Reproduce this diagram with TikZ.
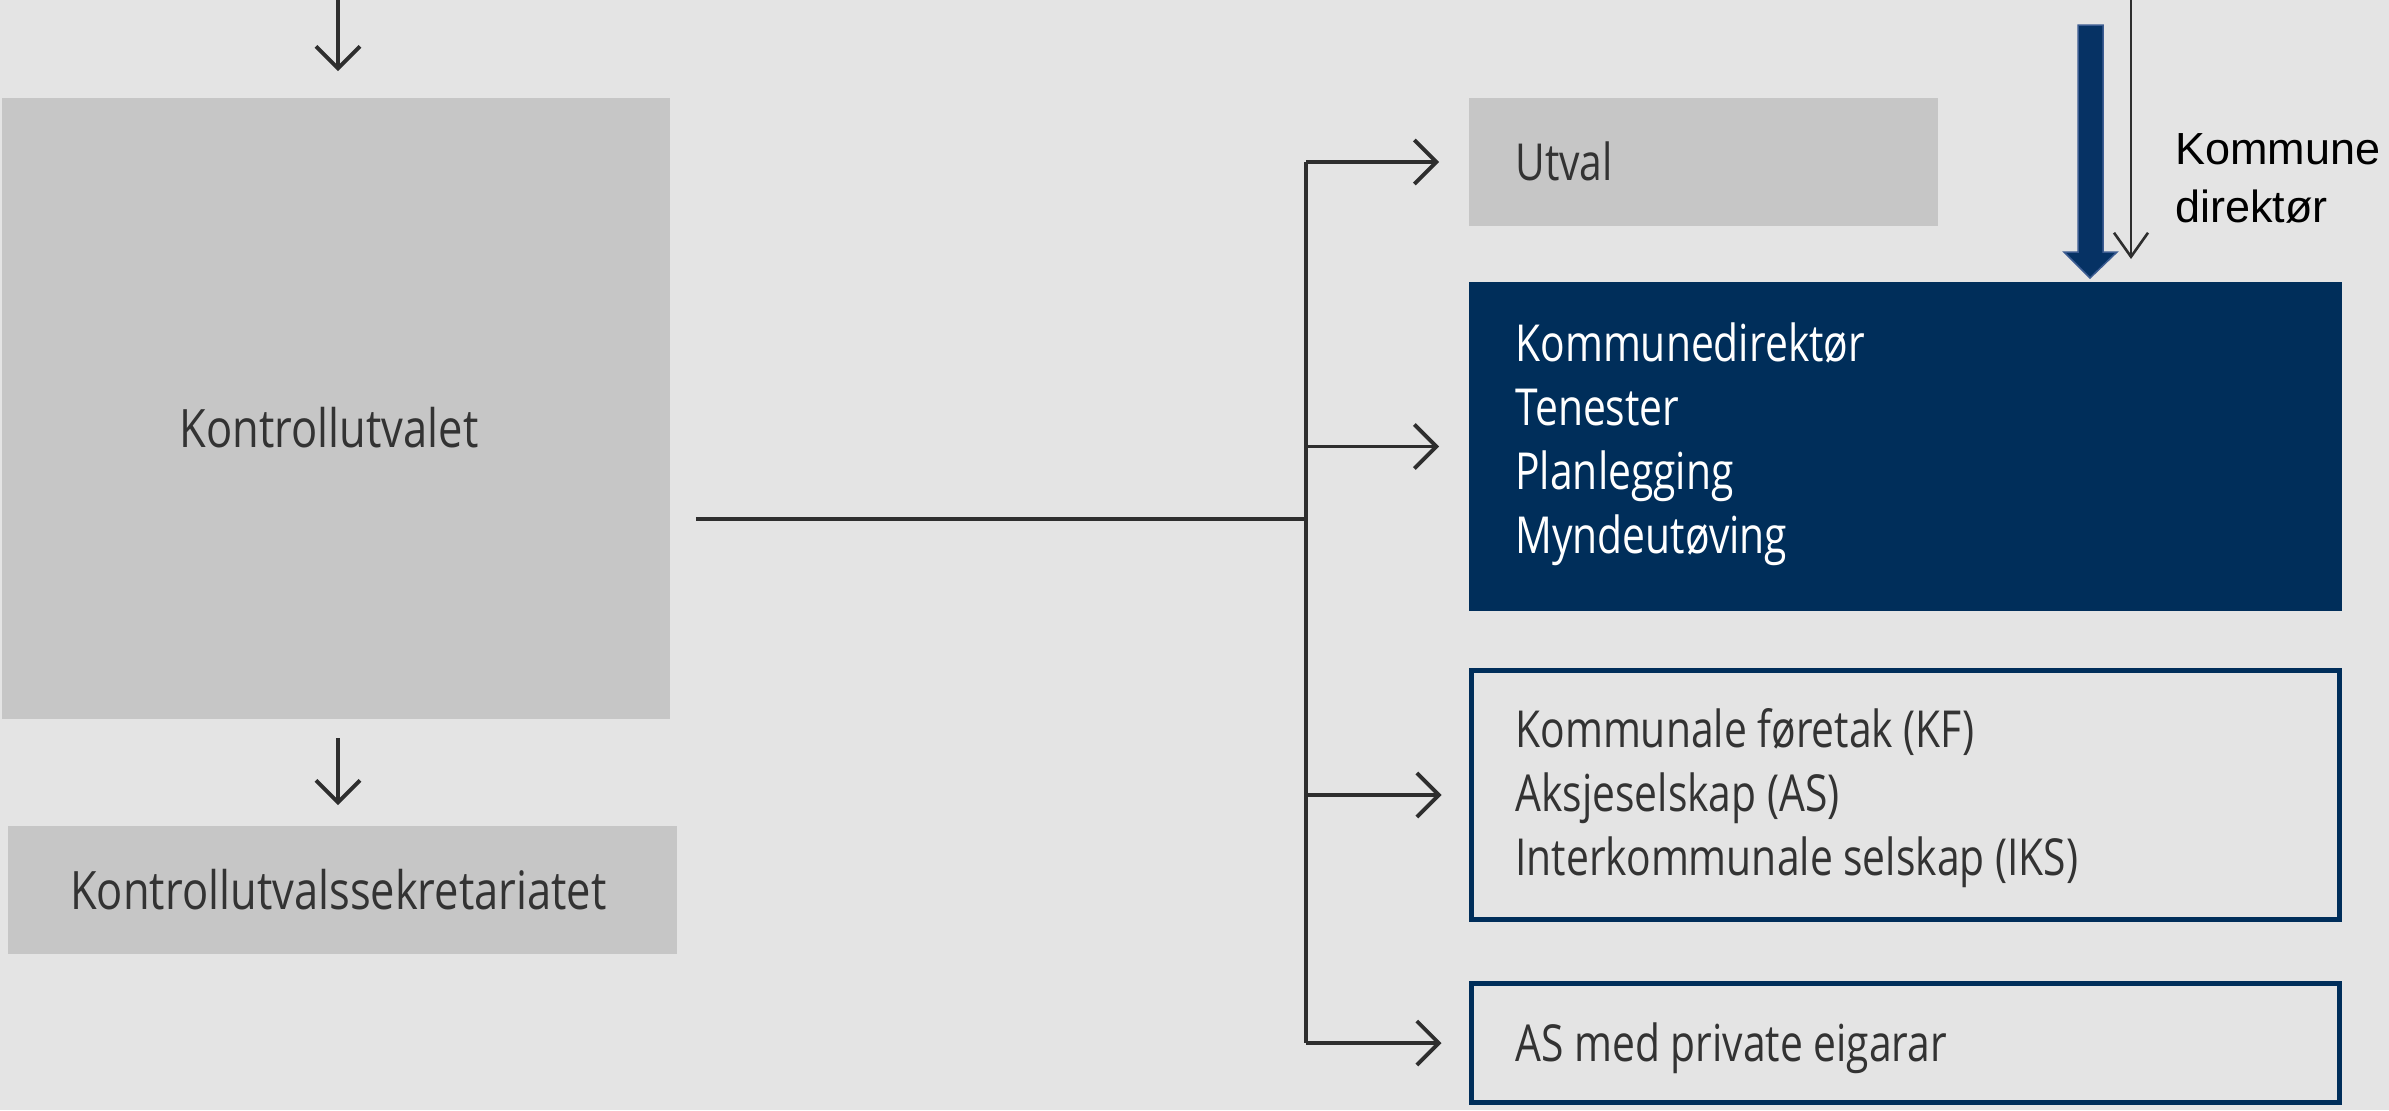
\documentclass[tikz,border=0pt]{standalone}
\usepackage{fontspec}
\usetikzlibrary{arrows.meta}
\newfontfamily\osansL[FakeStretch=0.82]{Open Sans}
\newfontfamily\osansR[FakeStretch=0.80]{Open Sans}
\newfontfamily\lsans{Liberation Sans}
\definecolor{bg}{RGB}{228,228,228}
\definecolor{boxgray}{RGB}{198,198,198}
\definecolor{navy}{RGB}{0,46,90}
\definecolor{navyarrow}{RGB}{6,50,100}
\definecolor{navyedge}{RGB}{60,92,145}
\definecolor{txt}{RGB}{51,51,51}
\definecolor{linec}{RGB}{46,46,46}
\begin{document}
\begin{tikzpicture}[x=0.5pt,y=-0.5pt,
  box/.style={draw=none,inner sep=0pt,outer sep=0pt},
  graybox/.style={box,fill=boxgray},
  navybox/.style={box,fill=navy},
  linebox/.style={inner sep=0pt,outer sep=0pt,draw=navy,line width=2.5pt},
  conn/.style={draw=linec,line width=1.9pt},
  arr/.style={conn,-{Straight Barb[length=11pt,width=22pt]}},
  thinarr/.style={draw=linec,line width=1.3pt,-{Straight Barb[length=12pt,width=17pt]}},
  lt/.style={font=\osansL\fontsize{26.5}{32}\selectfont,text=txt,inner sep=0pt,anchor=base},
  rt/.style={font=\osansR\fontsize{25.5}{32}\selectfont,text=txt,inner sep=0pt,anchor=base west},
]
\useasboundingbox (0,0) rectangle (2389,1110);
\fill[bg] (0,0) rectangle (2389,1110);

% left column
\node[graybox,minimum width=334pt,minimum height=310.5pt] (kv) at (335.75,408.5) {};
\node[lt] (kvt) at (329,447) {Kontrollutvalet};
\node[graybox,minimum width=334.5pt,minimum height=64pt] (sek) at (342.5,890) {};
\node[lt] (sekt) at (338.5,909) {Kontrollutvalssekretariatet};

\coordinate (topin) at (338,0);
\draw[arr] (topin) -- ([yshift=13.5pt]kv.north -| topin);
\draw[arr] ([yshift=-9.5pt]kv.south -| topin) -- ([yshift=10.5pt]sek.north -| topin);

% right column
\node[graybox,minimum width=234.5pt,minimum height=64pt] (utval) at (1703.5,162) {};
\node[rt,text=txt] (utvalt) at (1515,180) {Utval};

\node[navybox,minimum width=436.5pt,minimum height=164.5pt] (dark) at (1905.5,446.5) {};
\node[rt,text=white] (darkt) at (1515,361) {\begin{tabular}[t]{@{}l@{}}Kommunedirektør\\Tenester\\Planlegging\\Myndeutøving\end{tabular}};

\node[linebox,minimum width=434pt,minimum height=124.5pt] (kf) at (1905.5,795) {};
\node[rt] (kft) at (1515,747) {\begin{tabular}[t]{@{}l@{}}Kommunale føretak (KF)\\Aksjeselskap (AS)\\Interkommunale selskap (IKS)\end{tabular}};

\node[linebox,minimum width=434pt,minimum height=59.5pt] (as) at (1905.5,1043) {};
\node[rt] (ast) at (1515,1061) {AS med private eigarar};

% connectors
\coordinate (hub) at (1306,519);
\draw[conn] ([xshift=13pt]kv.east |- hub) -- (hub);
\draw[conn] (hub |- utval.west) -- (hub |- as.west);
\draw[arr] (hub |- utval.west) -- ([xshift=-15pt]utval.west);
\draw[arr] (hub |- dark.west) -- ([xshift=-15pt]dark.west);
\draw[arr] (hub |- kf.west) -- ([xshift=-15pt]kf.west);
\draw[arr] (hub |- as.west) -- ([xshift=-15pt]as.west);

% kommunedirektør arrows
\fill[navyarrow,draw=navyedge,line width=0.75pt]
  (2078,25) -- (2103,25) -- (2103,252) -- (2117,252) -- (2090,278) -- (2064,252) -- (2078,252) -- cycle;
\coordinate (thintop) at (2131,0);
\coordinate (thinend) at (2131,259);
\draw[thinarr] (thintop) -- (thinend);
\node[font=\lsans\fontsize{22.5}{29}\selectfont,text=black,inner sep=0pt,anchor=base west] (kd) at (2175,164)
  {\begin{tabular}[t]{@{}l@{}}Kommune\\direktør\end{tabular}};
\end{tikzpicture}
\end{document}
